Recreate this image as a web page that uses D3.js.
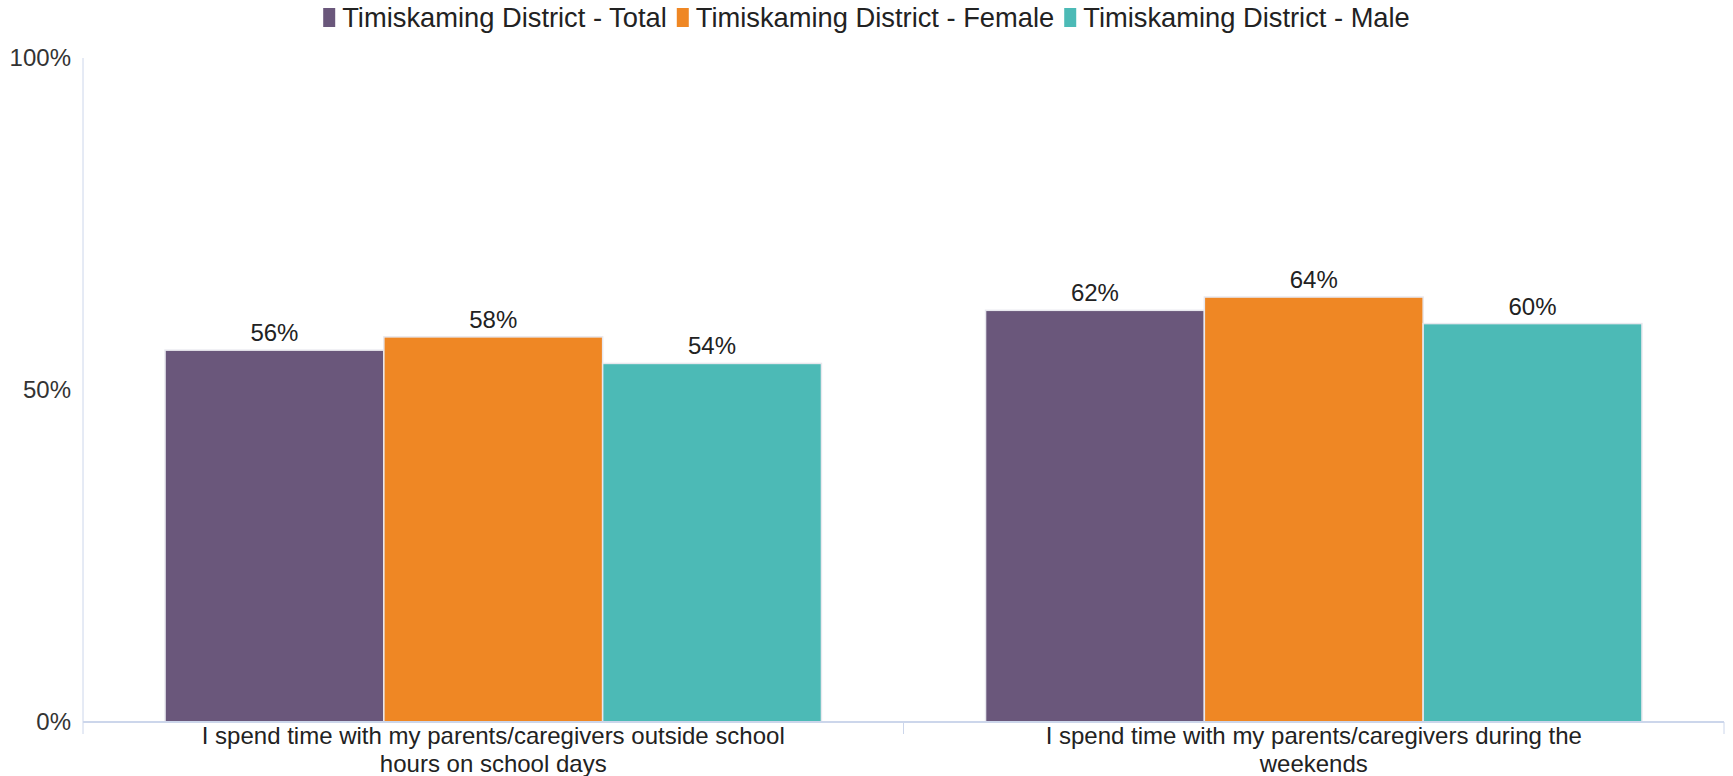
<!DOCTYPE html>
<html>
<head>
<meta charset="utf-8">
<script src="https://cdn.jsdelivr.net/npm/d3@7"></script>
<style>
  body { margin: 0; background: #fff; }
  svg { font-family: "Liberation Sans", Arial, sans-serif; }
</style>
</head>
<body>
<svg id="chart"></svg>
<script>
// Data ==========================================
const categories = [
  ["I spend time with my parents/caregivers outside school", "hours on school days"],
  ["I spend time with my parents/caregivers during the", "weekends"]
];
const seriesNames = ["Timiskaming District - Total", "Timiskaming District - Female", "Timiskaming District - Male"];
const seriesColors = ["#6a577b", "#ef8724", "#4cbab6"];
const totalValues = [56, 62];
const femaleValues = [58, 64];
const maleValues = [54, 60];
const yTicks = [0, 50, 100];

const width = 1733, height = 776;
const margin = {top: 58, right: 9, bottom: 54, left: 83};

const svg = d3.select("#chart")
    .attr("width", width)
    .attr("height", height);

const seriesValues = [totalValues, femaleValues, maleValues];

const x0 = d3.scaleBand()
    .domain(d3.range(categories.length))
    .range([margin.left, width - margin.right])
    .paddingInner(0)
    .paddingOuter(0);

// bars fill 80% of each category band
const x1 = d3.scaleBand()
    .domain(d3.range(seriesNames.length))
    .range([0, x0.bandwidth()])
    .paddingOuter(0.375);

const y = d3.scaleLinear()
    .domain([0, 100])
    .range([height - margin.bottom, margin.top]);

// Y axis line and labels
svg.append("line")
    .attr("x1", margin.left).attr("x2", margin.left)
    .attr("y1", y(100)).attr("y2", y(0))
    .attr("stroke", "#ccd6eb").attr("stroke-width", 1);

svg.selectAll(".ytick")
    .data(yTicks)
  .enter().append("text")
    .attr("class", "ytick")
    .attr("x", margin.left - 12)
    .attr("y", d => y(d))
    .attr("dy", "0.35em")
    .attr("text-anchor", "end")
    .attr("font-size", "24px")
    .attr("fill", "#333")
    .text(d => d + "%");

// Bars
const groups = svg.selectAll(".group")
    .data(categories)
  .enter().append("g")
    .attr("class", "group")
    .attr("transform", (d, i) => `translate(${x0(i)},0)`);

groups.each(function(c, ci) {
  const g = d3.select(this);
  seriesValues.forEach((vals, si) => {
    g.append("rect")
      .attr("x", x1(si))
      .attr("y", y(vals[ci]))
      .attr("width", x1.bandwidth())
      .attr("height", y(0) - y(vals[ci]))
      .attr("fill", seriesColors[si])
      .attr("stroke", "#e8e8ee")
      .attr("stroke-width", 1.5);
    g.append("text")
      .attr("x", x1(si) + x1.bandwidth() / 2)
      .attr("y", y(vals[ci]) - 9)
      .attr("text-anchor", "middle")
      .attr("font-size", "24px")
      .attr("fill", "#222")
      .text(vals[ci] + "%");
  });
});

// X axis line and ticks
svg.append("line")
    .attr("x1", margin.left).attr("x2", width - margin.right)
    .attr("y1", y(0)).attr("y2", y(0))
    .attr("stroke", "#ccd6eb").attr("stroke-width", 2);

const tickXs = d3.range(categories.length + 1).map(i => i < categories.length ? x0(i) : x0(i - 1) + x0.bandwidth());
svg.selectAll(".xtick")
    .data(tickXs)
  .enter().append("line")
    .attr("x1", d => d).attr("x2", d => d)
    .attr("y1", y(0)).attr("y2", y(0) + 12)
    .attr("stroke", "#ccd6eb").attr("stroke-width", 1);

// Category labels
groups.each(function(c) {
  const t = d3.select(this).append("text")
    .attr("text-anchor", "middle")
    .attr("font-size", "24px")
    .attr("fill", "#222");
  c.forEach((line, li) => {
    t.append("tspan")
      .attr("x", x0.bandwidth() / 2)
      .attr("y", y(0) + 22 + li * 28)
      .text(line);
  });
});

// Legend
const legend = svg.append("g").attr("class", "legend");
let lx = 0;
seriesNames.forEach((name, i) => {
  const item = legend.append("g").attr("transform", `translate(${lx},0)`);
  item.append("rect")
    .attr("x", 0).attr("y", 8)
    .attr("width", 12).attr("height", 19)
    .attr("fill", seriesColors[i]);
  const txt = item.append("text")
    .attr("x", 19).attr("y", 27)
    .attr("font-size", "27.3px")
    .attr("fill", "#222")
    .text(name);
  lx += 19 + txt.node().getComputedTextLength() + 10;
});
legend.attr("transform", `translate(${(width - (lx - 10)) / 2},0)`);
</script>
</body>
</html>
